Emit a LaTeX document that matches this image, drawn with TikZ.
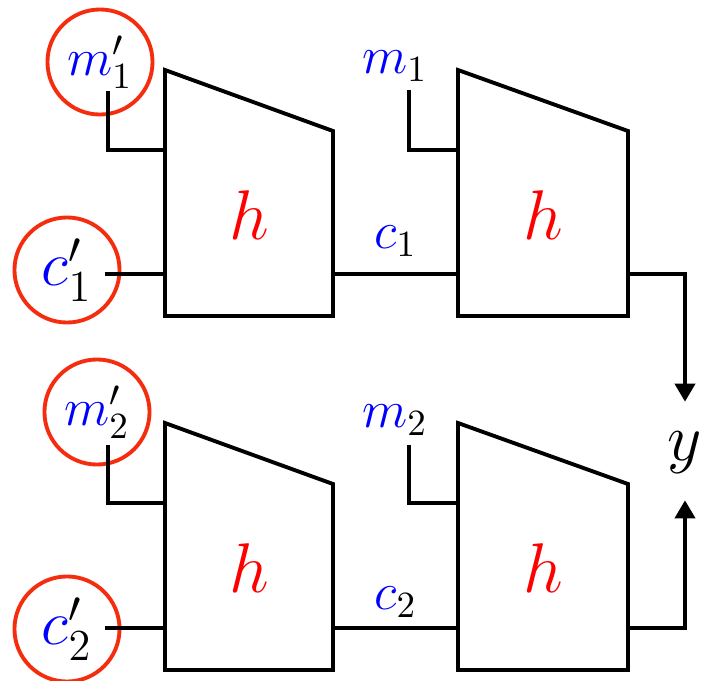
\documentclass[tikz,border=0pt]{standalone}
\usepackage{fix-cm}
\usetikzlibrary{arrows.meta}
\definecolor{ringred}{RGB}{245,45,15}
\begin{document}
\begin{tikzpicture}[
    x=0.01cm, y=-0.01cm,
    block/.style={draw, line width=1.1pt, line join=miter},
    wire/.style={draw, line width=1.1pt},
    ring/.style={circle, draw=ringred, line width=1.1pt, minimum size=1.05cm, inner sep=0pt},
    fn/.style={text=red, font=\fontsize{20}{24}\selectfont},
    lbl/.style={font=\fontsize{15}{18}\selectfont},
    arrow/.style={wire, -{Triangle[length=0.18cm, width=0.2cm]}}
]
\useasboundingbox (0,0) rectangle (705,681);

% Top row blocks
\draw[block] (165,70) -- (333,131) -- (333,316) -- (165,316) -- cycle;
\draw[block] (458,70) -- (628,131) -- (628,316) -- (458,316) -- cycle;
\node[fn] (hL1) at (249,215) {$h$};
\node[fn] (hR1) at (543,215) {$h$};
\coordinate (hL1 m) at (165,150);
\coordinate (hL1 c) at (165,274);
\coordinate (hL1 out) at (333,274);
\coordinate (hR1 m) at (458,150);
\coordinate (hR1 c) at (458,274);
\coordinate (hR1 out) at (628,274);

% Bottom row blocks
\draw[block] (165,423) -- (333,484) -- (333,670) -- (165,670) -- cycle;
\draw[block] (458,423) -- (628,484) -- (628,670) -- (458,670) -- cycle;
\node[fn] (hL2) at (249,568) {$h$};
\node[fn] (hR2) at (543,568) {$h$};
\coordinate (hL2 m) at (165,503);
\coordinate (hL2 c) at (165,628);
\coordinate (hL2 out) at (333,628);
\coordinate (hR2 m) at (458,503);
\coordinate (hR2 c) at (458,628);
\coordinate (hR2 out) at (628,628);

% Circled inputs
\node[ring, lbl] (mp1) at (100,62) {$\textcolor{blue}{m}'_1$};
\node[ring, font=\fontsize{18}{21}\selectfont] (cp1) at (67,270) {$\textcolor{blue}{c}'_1$};
\node[ring, lbl] (mp2) at (97,412) {$\textcolor{blue}{m}'_2$};
\node[ring, font=\fontsize{18}{21}\selectfont] (cp2) at (67,629) {$\textcolor{blue}{c}'_2$};
\coordinate (mp1 end) at (108,91);
\coordinate (cp1 end) at (105,274);
\coordinate (mp2 end) at (108,445);
\coordinate (cp2 end) at (105,628);

% Plain inputs
\node[lbl] (m1) at (395,66) {$\textcolor{blue}{m}_1$};
\node[lbl] (m2) at (395,420) {$\textcolor{blue}{m}_2$};
\coordinate (m1 end) at (409,90);
\coordinate (m2 end) at (409,445);

% Output
\node[font=\fontsize{19}{22}\selectfont] (y) at (685,453) {$y$};

% Wires
\draw[wire] (mp1 end) |- (hL1 m);
\draw[wire] (cp1 end) -- (hL1 c);
\draw[wire] (m1 end) |- (hR1 m);
\draw[wire] (hL1 out) -- node[lbl, above=1.2pt] (c1) {$\textcolor{blue}{c}_1$} (hR1 c);
\draw[wire] (mp2 end) |- (hL2 m);
\draw[wire] (cp2 end) -- (hL2 c);
\draw[wire] (m2 end) |- (hR2 m);
\draw[wire] (hL2 out) -- node[lbl, above=-0.9pt] (c2) {$\textcolor{blue}{c}_2$} (hR2 c);

% Arrows to y
\draw[arrow, shorten >=0.18cm] (hR1 out) -| (y);
\draw[arrow, shorten >=0.14cm] (hR2 out) -| (y);

\end{tikzpicture}
\end{document}
